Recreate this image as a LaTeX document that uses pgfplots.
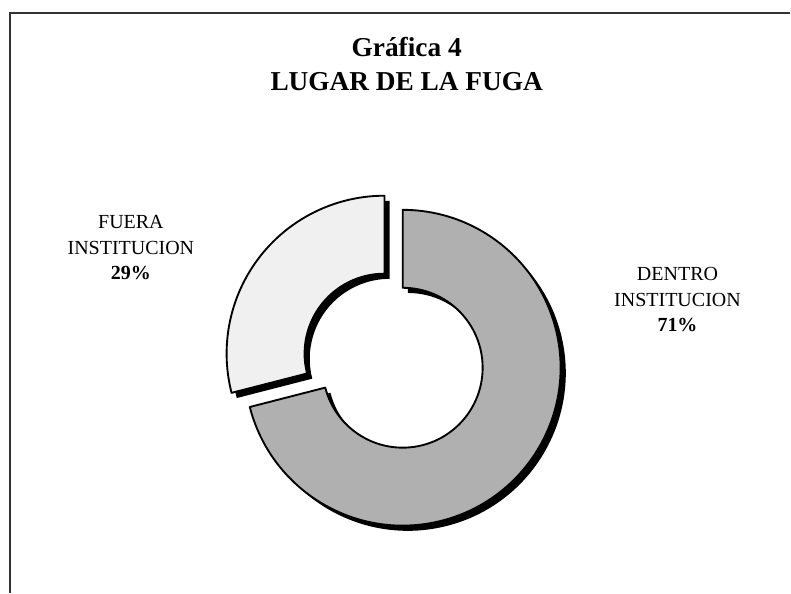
\documentclass[border=0pt]{standalone}
\usepackage{pgfplots}
\usepackage{pgfplotstable}
\pgfplotsset{compat=1.18}
\usepackage{fontspec}
\setmainfont{Liberation Serif}
\definecolor{dentrofill}{HTML}{B0B0B0}
\definecolor{fuerafill}{HTML}{F0F0F0}
\pgfplotstableread{
label value
Dentro 71
Fuera 29
}\datatable
\begin{document}
\begin{tikzpicture}
\pgfplotstablegetelem{0}{value}\of\datatable \pgfmathsetmacro{\vA}{\pgfplotsretval}
\pgfplotstablegetelem{1}{value}\of\datatable \pgfmathsetmacro{\vB}{\pgfplotsretval}
\pgfmathsetmacro{\tot}{\vA+\vB}
\pgfmathsetmacro{\shA}{\vA/\tot}
\pgfmathsetmacro{\shB}{\vB/\tot}
% dentro: clockwise from 90 deg
\pgfmathsetmacro{\aStart}{90-360*\shA}
\pgfmathsetmacro{\aEnd}{90}
% fuera: from 90 to 90+share
\pgfmathsetmacro{\bStart}{90}
\pgfmathsetmacro{\bEnd}{90+360*\shB}
\pgfmathsetmacro{\bMid}{(\bStart+\bEnd)/2}
\def\Rout{118.5pt}
\def\Rin{60pt}
\begin{axis}[
  x=0.75pt, y=0.75pt,
  xmin=0, xmax=791, ymin=0, ymax=593,
  hide axis, enlargelimits=false, clip=false,
  anchor=origin, at={(0,0)}
]
\path (axis cs:0,0) rectangle (axis cs:791,593);
% frame (left and top)
\draw[line width=0.9pt, black!80] (axis cs:10,0) -- (axis cs:10,580) -- (axis cs:791,580);
% title
\node[anchor=base, font=\bfseries\fontsize{20.5}{24}\selectfont] at (axis cs:407,536) {Gráfica 4};
\node[anchor=base, font=\bfseries\fontsize{20.5}{24}\selectfont] at (axis cs:407,502) {LUGAR DE LA FUGA};
% labels
\node[anchor=base, font=\fontsize{15}{18}\selectfont] at (axis cs:131,364) {FUERA};
\node[anchor=base, font=\fontsize{15}{18}\selectfont] at (axis cs:131,338) {INSTITUCION};
\node[anchor=base, font=\bfseries\fontsize{15}{18}\selectfont] at (axis cs:131,313) {29\%};
\node[anchor=base, font=\fontsize{15}{18}\selectfont] at (axis cs:678,312) {DENTRO};
\node[anchor=base, font=\fontsize{15}{18}\selectfont] at (axis cs:678,286) {INSTITUCION};
\node[anchor=base, font=\bfseries\fontsize{15}{18}\selectfont] at (axis cs:678,261) {71\%};
% dentro slice
\begin{scope}[shift={(axis cs:403,225)}]
  \begin{scope}[shift={(3.9pt,-3.9pt)}]
    \fill[black] (\aStart:\Rout) arc[start angle=\aStart, end angle=\aEnd, radius=\Rout]
      -- (\aEnd:\Rin) arc[start angle=\aEnd, end angle=\aStart, radius=\Rin] -- cycle;
  \end{scope}
  \filldraw[fill=dentrofill, draw=black, line width=1.4pt, line join=round]
    (\aStart:\Rout) arc[start angle=\aStart, end angle=\aEnd, radius=\Rout]
      -- (\aEnd:\Rin) arc[start angle=\aEnd, end angle=\aStart, radius=\Rin] -- cycle;
\end{scope}
% fuera slice (exploded)
\begin{scope}[shift={(axis cs:403,225)}, shift={(\bMid:17.3pt)}]
  \begin{scope}[shift={(3.9pt,-3.9pt)}]
    \fill[black] (\bStart:\Rout) arc[start angle=\bStart, end angle=\bEnd, radius=\Rout]
      -- (\bEnd:\Rin) arc[start angle=\bEnd, end angle=\bStart, radius=\Rin] -- cycle;
  \end{scope}
  \filldraw[fill=fuerafill, draw=black, line width=1.4pt, line join=round]
    (\bStart:\Rout) arc[start angle=\bStart, end angle=\bEnd, radius=\Rout]
      -- (\bEnd:\Rin) arc[start angle=\bEnd, end angle=\bStart, radius=\Rin] -- cycle;
\end{scope}
\end{axis}
\end{tikzpicture}
\end{document}
